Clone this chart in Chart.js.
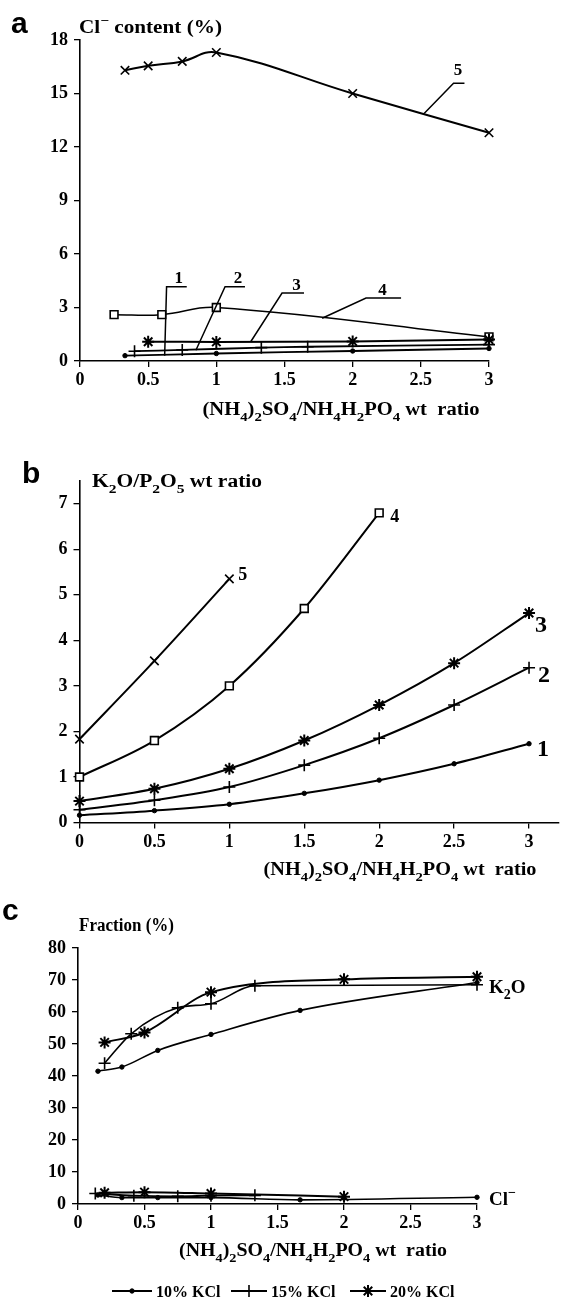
<!DOCTYPE html>
<html>
<head>
<meta charset="utf-8">
<script src="https://cdn.jsdelivr.net/npm/chart.js@4.4.1/dist/chart.umd.min.js"></script>
<style>
  html, body { margin: 0; padding: 0; background: #fff; }
  #wrap { position: relative; width: 575px; height: 1302px; }
  canvas { position: absolute; left: 0; }
</style>
</head>
<body>
<div id="wrap">
  <canvas id="chartA" width="575" height="430" style="top:0px"></canvas>
  <canvas id="chartB" width="575" height="460" style="top:430px"></canvas>
  <canvas id="chartC" width="575" height="412" style="top:890px"></canvas>
</div>
<script>
// ---- panel a : Cl- content (%) vs (NH4)2SO4/NH4H2PO4 ratio
const a1Ratio = [0.33, 1.0, 2.0, 3.0];
const a1Cl    = [0.30, 0.42, 0.56, 0.70];
const a2Ratio = [0.40, 0.75, 1.33, 1.67, 3.0];
const a2Cl    = [0.55, 0.62, 0.75, 0.80, 0.92];
const a3Ratio = [0.5, 1.0, 2.0, 3.0];
const a3Cl    = [1.08, 1.07, 1.10, 1.20];
const a4Ratio = [0.25, 0.6, 1.0, 3.0];
const a4Cl    = [2.6, 2.6, 3.0, 1.35];
const a5Ratio = [0.33, 0.5, 0.75, 1.0, 2.0, 3.0];
const a5Cl    = [16.3, 16.55, 16.8, 17.3, 15.0, 12.8];

// ---- panel b : K2O/P2O5 wt ratio
const bRatio = [0, 0.5, 1, 1.5, 2, 2.5, 3];
const b1 = [0.16, 0.26, 0.40, 0.64, 0.93, 1.29, 1.73];
const b2 = [0.28, 0.49, 0.78, 1.26, 1.85, 2.58, 3.40];
const b3 = [0.47, 0.74, 1.18, 1.80, 2.58, 3.50, 4.60];
const b4 = [1.0, 1.8, 3.0, 4.7, 6.8];
const b5 = [1.83, 3.55, 5.35];

// ---- panel c : fraction (%) of K2O and Cl-
const c10Ratio = [0.15, 0.33, 0.6, 1.0, 1.67, 3.0];
const c10K2O   = [41.5, 42.8, 48.0, 53.0, 60.5, 69.2];
const c10Cl    = [2.8, 2.0, 2.0, 2.0, 1.3, 2.1];
const c15Ratio = [0.2, 0.4, 0.75, 1.0, 1.33, 3.0];
const c15K2O   = [44.0, 53.2, 61.3, 62.6, 68.2, 68.5];
const c15ClRatio = [0.13, 0.42, 0.75, 1.0, 1.33];
const c15Cl    = [3.3, 2.6, 2.4, 2.6, 2.7];
const c20Ratio = [0.2, 0.5, 1.0, 2.0, 3.0];
const c20K2O   = [50.5, 53.6, 66.2, 70.2, 71.0];
const c20ClRatio = [0.2, 0.5, 1.0, 2.0];
const c20Cl    = [3.5, 3.7, 3.3, 2.3];

const xTickLabels = ['0', '0.5', '1', '1.5', '2', '2.5', '3'];

const SERIF = '"Liberation Serif", serif';
const SANS = '"Liberation Sans", Arial, sans-serif';

// marker looks
const mk = {
  dot:   { pointStyle: 'circle',   pointRadius: 2.2, pointBackgroundColor: '#000', pointBorderWidth: 1 },
  plus:  { pointStyle: 'cross',    pointRadius: 6,   pointBackgroundColor: '#000', pointBorderWidth: 1.6 },
  star:  { pointStyle: 'star',     pointRadius: 6,   pointBackgroundColor: '#000', pointBorderWidth: 2 },
  box:   { pointStyle: 'rect',     pointRadius: 5.5, pointBackgroundColor: '#fff', pointBorderWidth: 1.6 },
  times: { pointStyle: 'crossRot', pointRadius: 6,   pointBackgroundColor: '#000', pointBorderWidth: 1.6 }
};

function series(xs, ys, marker, width, smooth) {
  const curve = smooth === 'tension'
    ? { tension: 0.4, cubicInterpolationMode: 'default' }
    : { cubicInterpolationMode: 'monotone' };
  return Object.assign({
    data: xs.map((x, i) => ({ x: x, y: ys[i] })),
    borderColor: '#000',
    borderWidth: width || 1.8,
    pointBorderColor: '#000',
    fill: false,
    clip: false
  }, curve, marker);
}

// texte avec indices / exposants, éventuellement étiré à une largeur donnée
function richText(ctx, parts, x, y, size, align, fitWidth) {
  const fontFor = m => `bold ${m ? Math.round(size * 0.72) : size}px ${SERIF}`;
  let w = 0;
  parts.forEach(([t, m]) => { ctx.font = fontFor(m); w += ctx.measureText(t).width; });
  const sx = fitWidth ? fitWidth / w : 1;
  const tw = w * sx;
  let x0 = align === 'center' ? x - tw / 2 : align === 'right' ? x - tw : x;
  ctx.save();
  ctx.translate(x0, y);
  ctx.scale(sx, 1);
  ctx.fillStyle = '#000';
  ctx.textAlign = 'left';
  ctx.textBaseline = 'alphabetic';
  let cx = 0;
  parts.forEach(([t, m]) => {
    ctx.font = fontFor(m);
    const dy = m === 'sub' ? size * 0.32 : m === 'sup' ? -size * 0.42 : 0;
    ctx.fillText(t, cx, dy);
    cx += ctx.measureText(t).width;
  });
  ctx.restore();
}

const ratioTitle = [['(NH'], ['4', 'sub'], [')'], ['2', 'sub'], ['SO'], ['4', 'sub'], ['/NH'], ['4', 'sub'],
                    ['H'], ['2', 'sub'], ['PO'], ['4', 'sub'], [' wt  ratio']];

function panelLetter(ctx, t, x, y) {
  ctx.save();
  ctx.font = `bold 30px ${SANS}`;
  ctx.fillStyle = '#000';
  ctx.textBaseline = 'alphabetic';
  ctx.fillText(t, x, y);
  ctx.restore();
}

function buildOptions(p) {
  const tickFont = { family: SERIF, size: 18, weight: 'bold' };
  const axisCommon = {
    type: 'linear',
    border: { display: true, color: '#000', width: 1.6 },
    grid: { display: true, drawOnChartArea: false, drawTicks: true, tickLength: 6, color: '#000', lineWidth: 1.3 }
  };
  return {
    responsive: false,
    animation: false,
    devicePixelRatio: 1,
    layout: { padding: { left: 0, right: p.right, top: p.top, bottom: 0 } },
    plugins: { legend: { display: false }, tooltip: { enabled: false } },
    scales: {
      x: Object.assign({}, axisCommon, {
        min: 0, max: p.xMax,
        ticks: { stepSize: 0.5, includeBounds: false, autoSkip: false, maxRotation: 0, color: '#000', font: tickFont, padding: 3,
                 callback: (v) => xTickLabels[Math.round(v * 2)] ?? '' },
        afterFit: (s) => { s.height = p.xHeight; }
      }),
      y: Object.assign({}, axisCommon, {
        min: 0, max: p.yMax,
        ticks: { stepSize: p.yStep, includeBounds: false, autoSkip: false, color: '#000', font: tickFont, padding: 6 },
        afterFit: (s) => { s.width = p.yWidth; }
      })
    }
  };
}

// ---------------- panel a
const leadersA = [
  { label: '1', at: [0.724, 4.37], path: [[0.783, 4.17], [0.635, 4.17], [0.621, 0.30]] },
  { label: '2', at: [1.159, 4.37], path: [[1.21, 4.17], [1.064, 4.17], [0.85, 0.60]] },
  { label: '3', at: [1.588, 3.98], path: [[1.643, 3.81], [1.482, 3.81], [1.252, 1.08]] },
  { label: '4', at: [2.219, 3.70], path: [[2.355, 3.53], [2.098, 3.53], [1.776, 2.40]] },
  { label: '5', at: [2.773, 16.04], path: [[2.82, 15.58], [2.74, 15.58], [2.524, 13.88]] }
];

new Chart(document.getElementById('chartA'), {
  type: 'line',
  data: { datasets: [
    series(a1Ratio, a1Cl, mk.dot, 1.8, 'tension'),
    series(a2Ratio, a2Cl, mk.plus, 1.8, 'tension'),
    series(a3Ratio, a3Cl, mk.star, 2, 'tension'),
    series(a4Ratio, a4Cl, mk.box, 1.5, 'tension'),
    series(a5Ratio, a5Cl, mk.times, 2, 'tension')
  ] },
  options: buildOptions({ xMax: 3, yMax: 18, yStep: 3, yWidth: 80, xHeight: 69, top: 40, right: 86 }),
  plugins: [{
    id: 'textA',
    afterDraw(chart) {
      const ctx = chart.ctx, xs = chart.scales.x, ys = chart.scales.y;
      panelLetter(ctx, 'a', 11, 33);
      richText(ctx, [['Cl'], ['\u2212', 'sup'], [' content (%)']], 79, 33, 18, 'left', 143);
      richText(ctx, ratioTitle, 341, 415, 18, 'center', 277);
      ctx.save();
      ctx.strokeStyle = '#000';
      ctx.lineWidth = 1.5;
      leadersA.forEach(l => {
        ctx.beginPath();
        l.path.forEach(([x, y], i) => {
          const px = xs.getPixelForValue(x), py = ys.getPixelForValue(y);
          if (i === 0) ctx.moveTo(px, py); else ctx.lineTo(px, py);
        });
        ctx.stroke();
        richText(ctx, [[l.label]], xs.getPixelForValue(l.at[0]), ys.getPixelForValue(l.at[1]), 17, 'center');
      });
      ctx.restore();
    }
  }]
});

// ---------------- panel b
const labelsB = [
  { label: '1', idx: 0, dx: 8, dy: 12, size: 24 },
  { label: '2', idx: 1, dx: 9, dy: 14, size: 24 },
  { label: '3', idx: 2, dx: 6, dy: 19, size: 24 },
  { label: '4', idx: 3, dx: 11, dy: 9, size: 18 },
  { label: '5', idx: 4, dx: 9, dy: 1, size: 18 }
];

new Chart(document.getElementById('chartB'), {
  type: 'line',
  data: { datasets: [
    series(bRatio, b1, mk.dot, 2),
    series(bRatio, b2, mk.plus, 2),
    series(bRatio, b3, mk.star, 2),
    series(bRatio.slice(0, b4.length), b4, mk.box, 2),
    series(bRatio.slice(0, b5.length), b5, mk.times, 2)
  ] },
  options: buildOptions({ xMax: 3.2, yMax: 7.5, yStep: 1, yWidth: 79.5, xHeight: 67.5, top: 51, right: 16 }),
  plugins: [{
    id: 'textB',
    afterDraw(chart) {
      const ctx = chart.ctx, off = 430;
      panelLetter(ctx, 'b', 22, 483 - off);
      richText(ctx, [['K'], ['2', 'sub'], ['O/P'], ['2', 'sub'], ['O'], ['5', 'sub'], [' wt ratio']], 92, 487 - off, 18, 'left', 170);
      richText(ctx, ratioTitle, 400, 875 - off, 18, 'center', 273);
      labelsB.forEach(l => {
        const pts = chart.getDatasetMeta(l.idx).data;
        const last = pts[pts.length - 1];
        richText(ctx, [[l.label]], last.x + l.dx, last.y + l.dy, l.size, 'left');
      });
    }
  }]
});

// ---------------- panel c
const legendC = [
  { text: '10% KCl', marker: mk.dot,  x0: 112, x1: 152 },
  { text: '15% KCl', marker: mk.plus, x0: 231, x1: 267 },
  { text: '20% KCl', marker: mk.star, x0: 350, x1: 386 }
];

new Chart(document.getElementById('chartC'), {
  type: 'line',
  data: { datasets: [
    series(c10Ratio, c10K2O, mk.dot, 1.6),
    series(c15Ratio, c15K2O, mk.plus, 1.6),
    series(c20Ratio, c20K2O, mk.star, 2),
    series(c10Ratio, c10Cl, mk.dot, 1.6),
    series(c15ClRatio, c15Cl, mk.plus, 1.8),
    series(c20ClRatio, c20Cl, mk.star, 2)
  ] },
  options: buildOptions({ xMax: 3, yMax: 80, yStep: 10, yWidth: 78, xHeight: 98, top: 58, right: 98 }),
  plugins: [{
    id: 'textC',
    afterDraw(chart) {
      const ctx = chart.ctx, off = 890;
      panelLetter(ctx, 'c', 2, 920 - off);
      richText(ctx, [['Fraction (%)']], 79, 931 - off, 18, 'left', 95);
      richText(ctx, [['K'], ['2', 'sub'], ['O']], 489, 993 - off, 19, 'left');
      richText(ctx, [['Cl'], ['\u2212', 'sup']], 489, 1205 - off, 19, 'left');
      richText(ctx, ratioTitle, 313, 1256 - off, 18, 'center', 268);
      const ly = 1291 - off;
      legendC.forEach(it => {
        ctx.save();
        ctx.strokeStyle = '#000';
        ctx.fillStyle = it.marker.pointBackgroundColor;
        ctx.lineWidth = 1.8;
        ctx.beginPath();
        ctx.moveTo(it.x0, ly);
        ctx.lineTo(it.x1, ly);
        ctx.stroke();
        ctx.lineWidth = it.marker.pointBorderWidth;
        Chart.helpers.drawPoint(ctx, { pointStyle: it.marker.pointStyle, radius: it.marker.pointRadius, rotation: 0, borderWidth: it.marker.pointBorderWidth }, (it.x0 + it.x1) / 2, ly);
        ctx.restore();
        richText(ctx, [[it.text]], it.x1 + 4, ly + 6, 16, 'left');
      });
    }
  }]
});
</script>
</body>
</html>
